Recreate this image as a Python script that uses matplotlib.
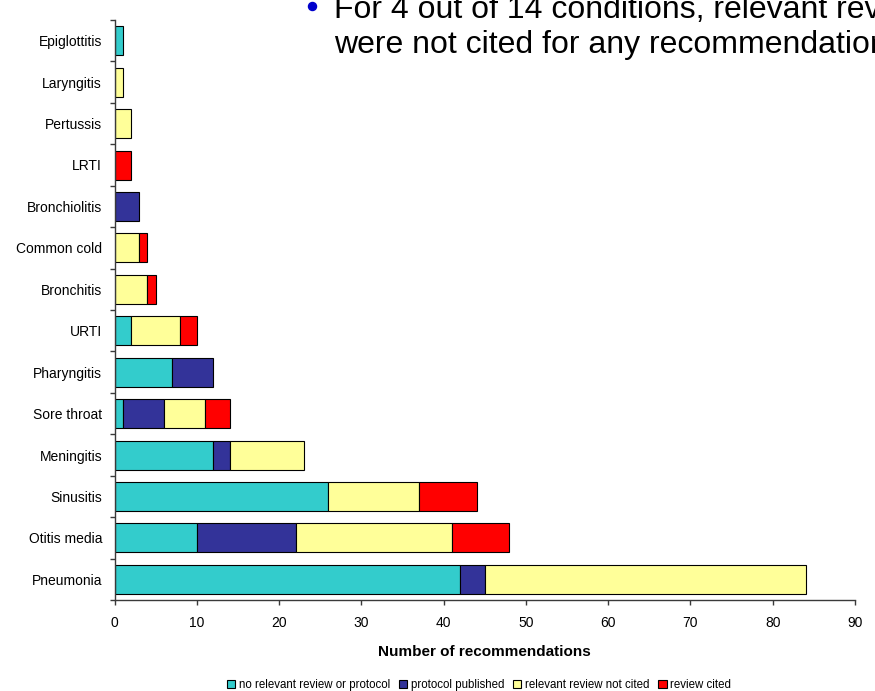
import numpy as np
import matplotlib
matplotlib.use('Agg')
from matplotlib import pyplot as plt
from matplotlib.patches import Rectangle
from matplotlib.lines import Line2D

plt.rcParams['font.family'] = ['Liberation Sans', 'DejaVu Sans']

# conditions, listed bottom to top
conditions = ['Pneumonia', 'Otitis media', 'Sinusitis', 'Meningitis', 'Sore throat',
              'Pharyngitis', 'URTI', 'Bronchitis', 'Common cold', 'Bronchiolitis',
              'LRTI', 'Pertussis', 'Laryngitis', 'Epiglottitis']

no_review = [42, 10, 26, 12, 1, 7, 2, 0, 0, 0, 0, 0, 0, 1]
protocol = [3, 12, 0, 2, 5, 5, 0, 0, 0, 3, 0, 0, 0, 0]
not_cited = [39, 19, 11, 9, 5, 0, 6, 4, 3, 0, 0, 2, 1, 0]
cited = [0, 7, 7, 0, 3, 0, 2, 1, 1, 0, 2, 0, 0, 0]

series = [no_review, protocol, not_cited, cited]
series_labels = ['no relevant review or protocol', 'protocol published',
                 'relevant review not cited', 'review cited']
series_colors = ['#33CCCC', '#333399', '#FFFF99', '#FF0000']

x_ticks = list(range(0, 91, 10))

W, H = 875, 691
fig = plt.figure(figsize=(W / 100, H / 100), dpi=100)
ax = fig.add_axes([114.5 / W, 1 - 600 / H, (855 - 114.5) / W, (600 - 20) / H])

y = np.arange(len(conditions))
left = np.zeros(len(conditions))
for vals, color in zip(series, series_colors):
    vals = np.array(vals, dtype=float)
    mask = vals > 0
    ax.barh(y[mask], vals[mask], left=left[mask], height=0.7, color=color,
            edgecolor='black', linewidth=0.8, zorder=2)
    left += vals

ax.set_xlim(0, 90)
ax.set_ylim(-0.5, len(conditions) - 0.5)
ax.set_xticks(x_ticks)
ax.set_xticklabels([str(t) for t in x_ticks], fontsize=10)
ax.set_yticks(y)
ax.set_yticklabels(conditions, fontsize=10)
ax.set_yticks(np.arange(len(conditions) + 1) - 0.5, minor=True)

axis_grey = '#3a3a3a'
for side in ['top', 'right']:
    ax.spines[side].set_visible(False)
for side in ['left', 'bottom']:
    ax.spines[side].set_color(axis_grey)
    ax.spines[side].set_linewidth(1.0)

ax.tick_params(axis='y', which='major', length=0, pad=9)
ax.tick_params(axis='y', which='minor', length=3.5, color=axis_grey, width=1.0)
ax.tick_params(axis='x', which='major', length=3.6, color=axis_grey, width=1.0, pad=8)

ax.set_xlabel('Number of recommendations', fontsize=11, fontweight='bold', labelpad=11)

handles = [Rectangle((0, 0), 1, 1, facecolor=c, edgecolor='black', linewidth=0.8)
           for c in series_colors]
fig.legend(handles, series_labels, loc='center', bbox_to_anchor=(479 / W, 1 - 685 / H),
           ncol=4, frameon=False, fontsize=8.3, handlelength=0.7, handleheight=0.7,
           handletextpad=0.3, columnspacing=0.8, borderpad=0)

# slide bullet text running over the top of the chart (runs past the right edge)
fig.add_artist(Line2D([312 / W], [1 - 6 / H], marker='o', markersize=5.8,
                      color='#0000CC', transform=fig.transFigure))
fig.text(334 / W, 1 - 18 / H, 'For 4 out of 14 conditions, relevant reviews',
         fontsize=23, va='baseline', ha='left', color='black')
fig.text(334 / W, 1 - 53 / H, 'were not cited for any recommendations',
         fontsize=23, va='baseline', ha='left', color='black')

fig.savefig('out.png', dpi=100)
